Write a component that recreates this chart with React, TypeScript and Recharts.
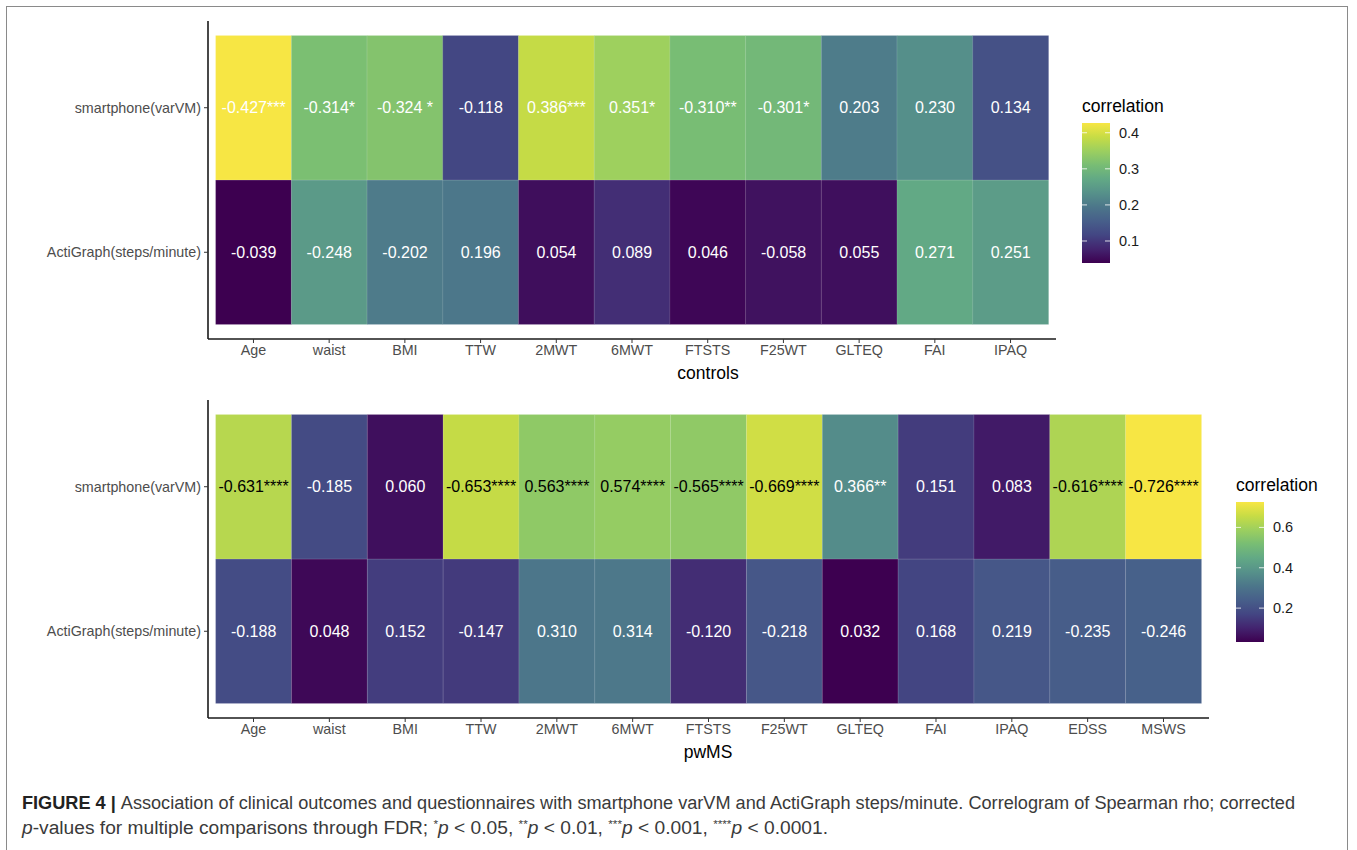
import React from "react";
import { BarChart, Bar, XAxis, YAxis, Cell, LabelList } from "recharts";

const rowNames = ["ActiGraph(steps/minute)", "smartphone(varVM)"];

const controlVars = ["Age", "waist", "BMI", "TTW", "2MWT", "6MWT", "FTSTS", "F25WT", "GLTEQ", "FAI", "IPAQ"];
const controlPhone = [-0.427, -0.314, -0.324, -0.118, 0.386, 0.351, -0.31, -0.301, 0.203, 0.23, 0.134];
const controlPhoneSig = ["***", "*", " *", "", "***", "*", "**", "*", "", "", ""];
const controlActi = [-0.039, -0.248, -0.202, 0.196, 0.054, 0.089, 0.046, -0.058, 0.055, 0.271, 0.251];
const controlLegendTicks = [0.1, 0.2, 0.3, 0.4];

const msVars = ["Age", "waist", "BMI", "TTW", "2MWT", "6MWT", "FTSTS", "F25WT", "GLTEQ", "FAI", "IPAQ", "EDSS", "MSWS"];
const msPhone = [-0.631, -0.185, 0.06, -0.653, 0.563, 0.574, -0.565, -0.669, 0.366, 0.151, 0.083, -0.616, -0.726];
const msPhoneSig = ["****", "", "", "****", "****", "****", "****", "****", "**", "", "", "****", "****"];
const msActi = [-0.188, 0.048, 0.152, -0.147, 0.31, 0.314, -0.12, -0.218, 0.032, 0.168, 0.219, -0.235, -0.246];
const msLegendTicks = [0.2, 0.4, 0.6];

const FONT = "'Liberation Sans', Arial, sans-serif";
// viridis, toned down the way the printed figure shows it
const PALETTE = ["#3d0050", "#43246f", "#434683", "#475f8a", "#4c768a", "#56918a", "#62a985", "#78bd74", "#9ccf5f", "#c7dc45", "#f7e644"];

function viridis(t: number) {
  const c = Math.max(0, Math.min(1, t)) * (PALETTE.length - 1);
  const i = Math.min(Math.floor(c), PALETTE.length - 2);
  const f = c - i;
  const a = PALETTE[i], b = PALETTE[i + 1];
  const ch = (h: string, k: number) => parseInt(h.slice(1 + k * 2, 3 + k * 2), 16);
  const mix = [0, 1, 2].map((k) => Math.round(ch(a, k) + (ch(b, k) - ch(a, k)) * f));
  return `rgb(${mix.join(",")})`;
}

function ColorBar({ id, lo, hi, ticks, left, top, height }: any) {
  const barW = 28;
  const tick = (p: any) => {
    const right = p.x - 9;
    return (
      <g>
        <line x1={right - barW} x2={right - barW + 5} y1={p.y} y2={p.y} stroke="#fff" strokeOpacity={0.8} strokeWidth={1} />
        <line x1={right - 5} x2={right} y1={p.y} y2={p.y} stroke="#fff" strokeOpacity={0.8} strokeWidth={1} />
        <text x={p.x} y={p.y} dominantBaseline="central" fontSize={14.5} fill="#1a1a1a" fontFamily={FONT}>
          {p.payload.value.toFixed(1)}
        </text>
      </g>
    );
  };
  return (
    <div style={{ position: "absolute", left, top }}>
      <BarChart width={barW + 40} height={height} data={[{ k: "c", v: hi }]} margin={{ top: 0, right: 0, bottom: 0, left: 0 }} barCategoryGap={0}>
        <defs>
          <linearGradient id={id} x1="0" y1="1" x2="0" y2="0">
            {PALETTE.map((c, i) => (
              <stop key={i} offset={i / (PALETTE.length - 1)} stopColor={c} />
            ))}
          </linearGradient>
        </defs>
        <XAxis dataKey="k" hide />
        <YAxis orientation="right" type="number" domain={[lo, hi]} allowDataOverflow ticks={ticks} width={40}
          axisLine={false} tickLine={false} tickSize={0} tickMargin={9} tick={tick} />
        <Bar dataKey="v" fill={`url(#${id})`} isAnimationActive={false} />
      </BarChart>
    </div>
  );
}

function Heatmap({ vars, phone, phoneSig, acti, title, top, width, legendLeft, legendTicks, id }: any) {
  const absVals = [...phone, ...acti].map((v: number) => Math.abs(v));
  const lo = Math.min(...absVals);
  const hi = Math.max(...absVals);
  const fillOf = (v: number) => viridis((Math.abs(v) - lo) / (hi - lo));
  const data = vars.map((name: string, i: number) => ({
    name,
    actiTile: 1,
    phoneTile: 1,
    actiLabel: acti[i].toFixed(3),
    phoneLabel: phone[i].toFixed(3) + phoneSig[i],
  }));

  const label = (sig: string[] | null) => (p: any) => {
    const dark = sig && sig[p.index] === "****";
    return (
      <text x={p.x + p.width / 2} y={p.y + p.height / 2} textAnchor="middle" dominantBaseline="central"
        fontSize={16} fontFamily={FONT} fill={dark ? "#000" : "#fff"}>
        {p.value}
      </text>
    );
  };

  const axisStyle = { stroke: "#1a1a1a", strokeWidth: 1.6 };
  const tickStyle = { fill: "#4d4d4d", fontSize: 14.3, fontFamily: FONT };

  return (
    <>
      <div style={{ position: "absolute", left: 0, top }}>
        <BarChart width={width} height={21 + 318 + 30} data={data} margin={{ top: 21, right: 0, bottom: 0, left: 0 }}
          barCategoryGap={0} barGap={0}>
          <XAxis dataKey="name" interval={0} padding={{ left: 7.6, right: 7.6 }} height={30} tickSize={4} tickMargin={2}
            axisLine={axisStyle} tickLine={{ stroke: "#333" }} tick={tickStyle} />
          <YAxis type="number" domain={[-0.1, 2.1]} allowDataOverflow ticks={[0.5, 1.5]} width={208}
            tickFormatter={(v: number) => (v < 1 ? rowNames[0] : rowNames[1])} tickSize={4} tickMargin={3}
            axisLine={axisStyle} tickLine={{ stroke: "#333" }} tick={tickStyle} />
          <Bar dataKey="actiTile" stackId="t" isAnimationActive={false}>
            {data.map((d: any, i: number) => (
              <Cell key={d.name} fill={fillOf(acti[i])} stroke="#ffffff" strokeOpacity={0.12} strokeWidth={1} />
            ))}
            <LabelList dataKey="actiLabel" content={label(null)} />
          </Bar>
          <Bar dataKey="phoneTile" stackId="t" isAnimationActive={false}>
            {data.map((d: any, i: number) => (
              <Cell key={d.name} fill={fillOf(phone[i])} stroke="#ffffff" strokeOpacity={0.12} strokeWidth={1} />
            ))}
            <LabelList dataKey="phoneLabel" content={label(phoneSig)} />
          </Bar>
        </BarChart>
      </div>
      <div style={{ position: "absolute", left: 708, top: top + 373 - 10, transform: "translateX(-50%)", fontSize: 17.5, fontFamily: FONT, color: "#000", lineHeight: "20px" }}>
        {title}
      </div>
      <div style={{ position: "absolute", left: legendLeft, top: top + 96, fontSize: 17.5, fontFamily: FONT, color: "#000", lineHeight: "20px" }}>
        correlation
      </div>
      <ColorBar id={id} lo={lo} hi={hi} ticks={legendTicks} left={legendLeft} top={top + 123} height={140} />
    </>
  );
}

export default function App() {
  return (
    <div style={{ position: "absolute", left: 0, top: 0, width: 1357, height: 850, overflow: "hidden", background: "#fff", fontFamily: FONT }}>
      <div style={{ position: "absolute", left: 6, top: 6, width: 1340, height: 850, border: "1.5px solid #8a8a8a", borderBottom: "none" }} />
      <Heatmap vars={controlVars} phone={controlPhone} phoneSig={controlPhoneSig} acti={controlActi} title="controls"
        top={0} width={1056} legendLeft={1082} legendTicks={controlLegendTicks} id="gTop" />
      <Heatmap vars={msVars} phone={msPhone} phoneSig={msPhoneSig} acti={msActi} title="pwMS"
        top={379} width={1209} legendLeft={1236} legendTicks={msLegendTicks} id="gBottom" />
      <svg style={{ position: "absolute", left: 0, top: 780 }} width={1357} height={60}>
        <text x={22} y={29} fontSize={18} fontFamily={FONT} fill="#3a3a3a" textLength={1273} lengthAdjust="spacingAndGlyphs">
          <tspan fontWeight="bold" fill="#222">FIGURE 4 | </tspan>
          Association of clinical outcomes and questionnaires with smartphone varVM and ActiGraph steps/minute. Correlogram of Spearman rho; corrected
        </text>
        <text x={22} y={54} fontSize={18} fontFamily={FONT} fill="#3a3a3a" textLength={806} lengthAdjust="spacingAndGlyphs">
          <tspan fontStyle="italic">p</tspan>-values for multiple comparisons through FDR; <tspan fontSize={11} dy={-6}>*</tspan>
          <tspan fontStyle="italic" dy={6}>p</tspan> {"< 0.05, "}<tspan fontSize={11} dy={-6}>**</tspan>
          <tspan fontStyle="italic" dy={6}>p</tspan> {"< 0.01, "}<tspan fontSize={11} dy={-6}>***</tspan>
          <tspan fontStyle="italic" dy={6}>p</tspan> {"< 0.001, "}<tspan fontSize={11} dy={-6}>****</tspan>
          <tspan fontStyle="italic" dy={6}>p</tspan> {"< 0.0001."}
        </text>
      </svg>
    </div>
  );
}
